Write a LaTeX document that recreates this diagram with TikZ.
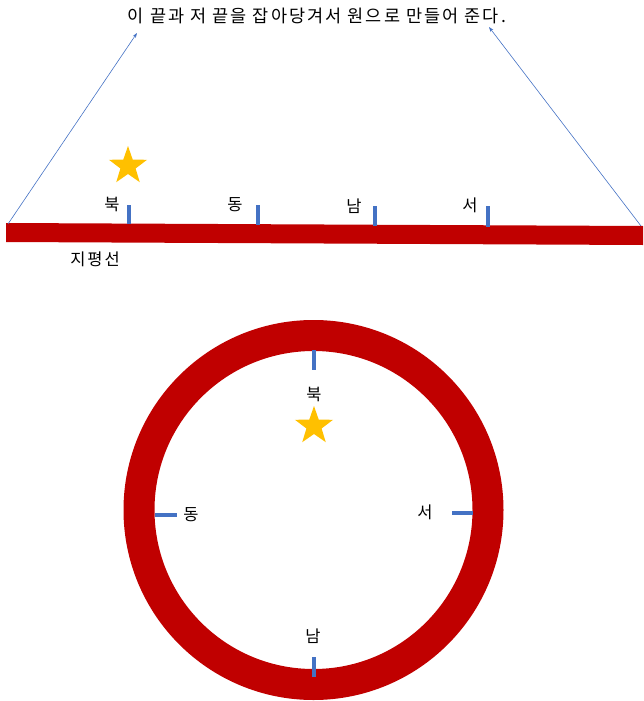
\documentclass[tikz,border=0pt]{standalone}
\usepackage{fontspec}
\newfontfamily\kr[LetterSpace=12]{Noto Sans CJK KR}
\usetikzlibrary{shapes.geometric,arrows.meta}
\definecolor{barred}{HTML}{C00000}
\definecolor{tickblue}{HTML}{4472C4}
\definecolor{stargold}{HTML}{FFC000}
\begin{document}
\begin{tikzpicture}[x=1pt,y=-1pt,
  lbl/.style={font=\kr\fontsize{16.5}{19}\selectfont, inner sep=0pt},
  titlelbl/.style={font=\kr\fontsize{17.5}{20}\selectfont, inner sep=0pt},
  tickmark/.style={draw=tickblue, line width=4pt},
  starshape/.style={star, star points=5, star point ratio=2.5, fill=stargold, draw=none, minimum size=40pt, inner sep=0pt},
  pullarrow/.style={draw=tickblue, line width=0.6pt, -{Stealth[length=5pt,width=3.5pt]}}]
\useasboundingbox (0,0) rectangle (643,701);
% title
\node[titlelbl] (title) at (317,16) {이 끝과 저 끝을 잡아당겨서 원으로 만들어 준다.};
% horizon bar
\fill[barred] (6,223) -- (643,226) -- (643,245) -- (6,242) -- cycle;
\coordinate (barL) at (8,224);
\coordinate (barR) at (641,226);
\coordinate (tipL) at (137,33);
\coordinate (tipR) at (489,27);
\draw[pullarrow] (barL) -- (tipL);
\draw[pullarrow] (barR) -- (tipR);
% ticks on bar
\coordinate (t1a) at (129,205); \coordinate (t1b) at (129,224);
\coordinate (t2a) at (258,205); \coordinate (t2b) at (258,225);
\coordinate (t3a) at (375,206); \coordinate (t3b) at (375,226);
\coordinate (t4a) at (488,206); \coordinate (t4b) at (488,227);
\draw[tickmark] (t1a) -- (t1b);
\draw[tickmark] (t2a) -- (t2b);
\draw[tickmark] (t3a) -- (t3b);
\draw[tickmark] (t4a) -- (t4b);
\node[lbl] (bN) at (112,204) {북};
\node[lbl] (bE) at (235,205) {동};
\node[lbl] (bS) at (354,206) {남};
\node[lbl] (bW) at (470,205) {서};
\node[starshape] (star1) at (128,166) {};
\node[lbl] (horizon) at (95,259) {지평선};
% circle
\coordinate (c) at (313.5,510);
\draw[barred, line width=31pt] (c) circle[radius=174.5];
\coordinate (cNa) at (314,350); \coordinate (cNb) at (314,370);
\coordinate (cSa) at (314,657); \coordinate (cSb) at (314,677);
\coordinate (cEa) at (155,515); \coordinate (cEb) at (177,515);
\coordinate (cWa) at (452,513); \coordinate (cWb) at (473,513);
\draw[tickmark] (cNa) -- (cNb);
\draw[tickmark] (cSa) -- (cSb);
\draw[tickmark] (cEa) -- (cEb);
\draw[tickmark] (cWa) -- (cWb);
\node[lbl] (cN) at (314,394) {북};
\node[lbl] (cS) at (313,636) {남};
\node[lbl] (cE) at (191,515) {동};
\node[lbl] (cW) at (425,512) {서};
\node[starshape] (star2) at (314,426) {};
\end{tikzpicture}
\end{document}
